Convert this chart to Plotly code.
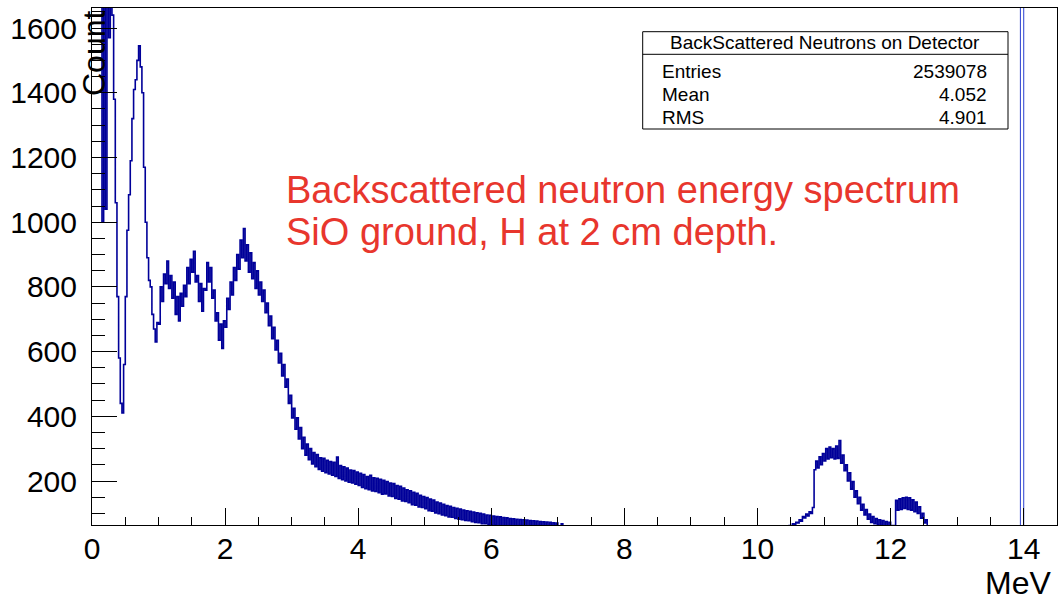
import plotly.graph_objects as go

# ---------------- data ----------------
bin_width = 0.025  # MeV

# segment 1: 0.000 .. 7.100 MeV
low_start = 0.0
low_counts = [
    2100, 2400, 2300, 2050, 1900, 1780, 1000, 1750, 1040, 1700,
    1570, 1720, 1640, 1380, 1060, 770, 580, 440, 410, 560,
    770, 975, 1085, 1190, 1320, 1410, 1440, 1500, 1545, 1480,
    1400, 1170, 1000, 890, 820, 800, 715, 670, 630, 690,
    685, 800, 755, 840, 810, 880, 795, 835, 765, 815,
    715, 770, 695, 780, 740, 805, 770, 860, 810, 885,
    845, 910, 815, 835, 755, 810, 725, 795, 790, 875,
    815, 860, 765, 790, 695, 720, 635, 685, 610, 695,
    675, 765, 730, 815, 775, 860, 820, 900, 855, 945,
    890, 980, 880, 930, 845, 905, 825, 875, 795, 850,
    775, 815, 755, 790, 720, 750, 680, 710, 640, 675,
    605, 635, 565, 595, 525, 560, 490, 515, 440, 465,
    395, 425, 360, 395, 330, 365, 300, 335, 280, 314,
    266, 300, 253, 288, 244, 282, 236, 272, 230, 270,
    226, 264, 222, 260, 218, 258, 214, 274, 208, 248,
    204, 244, 200, 240, 196, 234, 194, 232, 190, 228,
    186, 224, 180, 220, 176, 214, 173, 218, 169, 210,
    168, 208, 164, 205, 159, 202, 160, 198, 154, 194,
    152, 192, 146, 186, 144, 184, 138, 178, 137, 173,
    133, 170, 127, 165, 125, 162, 120, 156, 118, 152,
    114, 149, 108, 144, 107, 141, 101, 135, 99, 132,
    95, 128, 93, 124, 89, 122, 88, 118, 84, 116,
    82, 113, 80, 110, 78, 108, 77, 106, 74, 104,
    72, 102, 71, 100, 68, 98, 68, 95, 66, 94,
    64, 92, 63, 90, 61, 89, 60, 87, 58, 86,
    57, 84, 58, 83, 56, 82, 55, 81, 54, 80,
    53, 79, 52, 78, 51, 77, 50, 76, 49, 75,
    48, 74, 48, 73, 47, 72, 46, 71, 45, 70,
    44, 55, 68, 43,
]

# segment 2: 10.400 .. 12.600 MeV
mid_start = 10.4
mid_counts = [
    40, 55, 48, 62, 58, 68, 64, 72, 70, 80,
    76, 90, 86, 98, 92, 105, 100, 118, 235, 262,
    240, 275, 250, 285, 262, 300, 268, 305, 272, 300,
    268, 308, 270, 325, 255, 280, 232, 250, 200, 225,
    175, 198, 150, 170, 130, 150, 110, 128, 95, 112,
    82, 98, 72, 90, 68, 84, 64, 80, 62, 78,
    60, 75, 58, 72, 56, 62, 58, 140, 110, 145,
    112, 148, 115, 150, 112, 148, 110, 142, 105, 135,
    100, 120, 85, 100, 70, 80, 55, 45,
]

# segment 3: source line at 14 MeV (off scale)
spike_start = 13.95
spike_counts = [5000, 5000]

x_max = 14.5
y_min, y_max = 64, 1662

y_ticks = [200, 400, 600, 800, 1000, 1200, 1400, 1600]
x_ticks = [0, 2, 4, 6, 8, 10, 12, 14]

stats_title = "BackScattered Neutrons on Detector"
stats_names = ["Entries", "Mean", "RMS"]
stats_values = ["2539078", "4.052", "4.901"]

note_lines = ["Backscattered neutron energy spectrum", "SiO ground, H at 2 cm depth."]

# ---------------- build step histogram ----------------
xs, ys = [], []
def add_segment(start, counts):
    for i, c in enumerate(counts):
        xs.append(round(start + i * bin_width, 4))
        ys.append(c)
    xs.append(round(start + len(counts) * bin_width, 4))
    ys.append(0)

add_segment(low_start, low_counts)
add_segment(mid_start, mid_counts)

LINE = "#000099"
FONT = "Liberation Sans, Arial, Helvetica, sans-serif"

fig = go.Figure()
fig.add_trace(go.Scatter(
    x=xs, y=ys, mode="lines", line=dict(color=LINE, width=1.6, shape="hv"),
    hoverinfo="skip", showlegend=False,
))
# the 14 MeV source line (off scale), drawn thin
sx, sy = [spike_start], [0]
for i, c in enumerate(spike_counts):
    sx.append(round(spike_start + i * bin_width, 4))
    sy.append(c)
sx.append(round(spike_start + len(spike_counts) * bin_width, 4))
sy.append(0)
fig.add_trace(go.Scatter(
    x=sx, y=sy, mode="lines", line=dict(color="#2a3fd0", width=1, shape="hv"),
    hoverinfo="skip", showlegend=False,
))

L, R, T, B = 92, 6, 8, 76
W, H = 1063, 601
pw, ph = W - L - R, H - T - B

def px(xp):
    return (xp - L) / pw

def py(yp):
    return (H - B - yp) / ph

fig.update_layout(
    width=W, height=H,
    margin=dict(l=L, r=R, t=T, b=B),
    paper_bgcolor="white", plot_bgcolor="white",
    font=dict(family=FONT, color="black"),
    showlegend=False,
)
fig.update_xaxes(
    range=[0, x_max], tickvals=x_ticks, ticktext=[str(v) for v in x_ticks],
    ticks="inside", ticklen=17, tickwidth=1, tickcolor="black",
    minor=dict(ticks="inside", ticklen=8, dtick=0.5, tick0=0, tickcolor="black", tickwidth=1),
    showline=True, linecolor="black", linewidth=1, mirror=True,
    showgrid=False, zeroline=False,
    tickfont=dict(size=30, family=FONT, color="black"),
    ticklabelstandoff=-3,
)
fig.update_yaxes(
    range=[y_min, y_max], tickvals=y_ticks, ticktext=[str(v) for v in y_ticks],
    ticks="inside", ticklen=25, tickwidth=1, tickcolor="black",
    minor=dict(ticks="inside", ticklen=13, dtick=50, tick0=0, tickcolor="black", tickwidth=1),
    showline=True, linecolor="black", linewidth=1, mirror=True,
    showgrid=False, zeroline=False,
    tickfont=dict(size=30, family=FONT, color="black"),
    ticklabelstandoff=8,
)

# stats box
bx0, bx1, by0, by1, bsep = px(642.7), px(1008), py(129), py(31.7), py(54.3)
fig.add_shape(type="rect", xref="paper", yref="paper", x0=bx0, x1=bx1, y0=by0, y1=by1,
              line=dict(color="black", width=1), fillcolor="white", layer="above")
fig.add_shape(type="line", xref="paper", yref="paper", x0=bx0, x1=bx1, y0=bsep, y1=bsep,
              line=dict(color="black", width=1), layer="above")
fig.add_annotation(xref="paper", yref="paper", x=(bx0 + bx1) / 2, y=py(43),
                   text=stats_title, showarrow=False, xanchor="center", yanchor="middle",
                   font=dict(size=19, family=FONT, color="black"))
for name, val, yc in zip(stats_names, stats_values, [71, 94.5, 117]):
    fig.add_annotation(xref="paper", yref="paper", x=px(660), y=py(yc), text=name,
                       showarrow=False, xanchor="left", yanchor="middle",
                       font=dict(size=19, family=FONT, color="black"))
    fig.add_annotation(xref="paper", yref="paper", x=px(989), y=py(yc), text=val,
                       showarrow=False, xanchor="right", yanchor="middle",
                       font=dict(size=19, family=FONT, color="black"))

# red note
for line, yc in zip(note_lines, [190, 232]):
    fig.add_annotation(xref="paper", yref="paper", x=px(284), y=py(yc), text=line,
                       showarrow=False, xanchor="left", yanchor="middle",
                       font=dict(size=38, family=FONT, color="#e8362d"))

# axis titles (ROOT style)
fig.add_annotation(xref="paper", yref="paper", x=px(94), y=py(53), text="Count",
                   textangle=-90, showarrow=False, xanchor="center", yanchor="middle",
                   font=dict(size=32, family=FONT, color="black"))
fig.add_annotation(xref="paper", yref="paper", x=px(1053), y=py(583), text="MeV",
                   showarrow=False, xanchor="right", yanchor="middle",
                   font=dict(size=32, family=FONT, color="black"))

fig.write_html("out.html")
